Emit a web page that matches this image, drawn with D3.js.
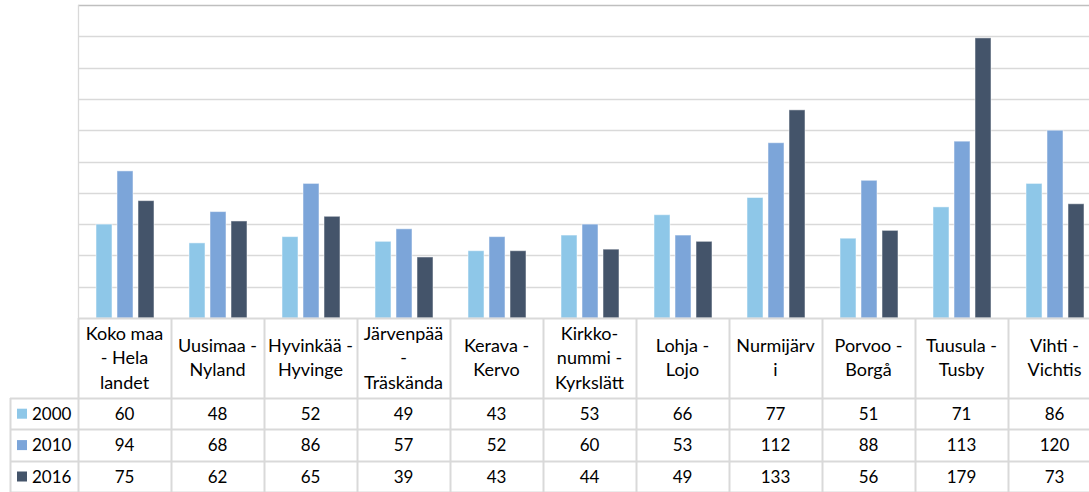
<!DOCTYPE html>
<html>
<head>
<meta charset="utf-8">
<script src="https://cdn.jsdelivr.net/npm/d3@7"></script>
<style>
  html, body { margin: 0; padding: 0; background: #fff; }
  text { font-family: Lato, "Open Sans", sans-serif; fill: #000; }
</style>
</head>
<body>
<div id="chart"></div>
<script>
// categories (municipalities) and how their names wrap in the table header
var categories = ["Koko maa - Hela landet", "Uusimaa - Nyland", "Hyvinkää - Hyvinge",
  "Järvenpää - Träskända", "Kerava - Kervo", "Kirkkonummi - Kyrkslätt", "Lohja - Lojo",
  "Nurmijärvi", "Porvoo - Borgå", "Tuusula - Tusby", "Vihti - Vichtis"];
var catLines = [["Koko maa", "- Hela", "landet"], ["Uusimaa -", "Nyland"], ["Hyvinkää -", "Hyvinge"],
  ["Järvenpää", "-", "Träskända"], ["Kerava -", "Kervo"], ["Kirkko-", "nummi -", "Kyrkslätt"],
  ["Lohja -", "Lojo"], ["Nurmijärv", "i"], ["Porvoo -", "Borgå"], ["Tuusula -", "Tusby"], ["Vihti -", "Vichtis"]];

var years = ["2000", "2010", "2016"];
var values2000 = [60, 48, 52, 49, 43, 53, 66, 77, 51, 71, 86];
var values2010 = [94, 68, 86, 57, 52, 60, 53, 112, 88, 113, 120];
var values2016 = [75, 62, 65, 39, 43, 44, 49, 133, 56, 179, 73];
var yTicks = [0, 20, 40, 60, 80, 100, 120, 140, 160, 180, 200];

var colors = { "2000": "#8ec7e8", "2010": "#7ca5d9", "2016": "#44546a" };
var seriesData = { "2000": values2000, "2010": values2010, "2016": values2016 };

var svgWidth = 1089, svgHeight = 492;
var plotLeft = 78, colW = 93;
var plotTop = 5, plotBottom = 318;
var headerBottom = 398, rowH = 31.4;
var legendLeft = 10;

var svg = d3.select("#chart").append("svg")
  .attr("width", svgWidth)
  .attr("height", svgHeight);

// scales
var x0 = d3.scaleBand()
  .domain(categories)
  .range([plotLeft, plotLeft + colW * categories.length])
  .paddingInner(0).paddingOuter(0);

var x1 = d3.scaleBand()
  .domain(years)
  .range([18, 76])
  .paddingInner(0.238);

var y = d3.scaleLinear()
  .domain([0, 200])
  .range([plotBottom, plotTop]);

// gridlines
svg.append("g").selectAll("line")
  .data(yTicks.filter(d => d > 0))
  .enter().append("line")
  .attr("x1", plotLeft).attr("x2", svgWidth)
  .attr("y1", d => Math.round(y(d)) + 0.5)
  .attr("y2", d => Math.round(y(d)) + 0.5)
  .attr("stroke", d => d === 200 ? "#bfbfbf" : "#d9d9d9")
  .attr("stroke-width", 1.3);

// left axis line
svg.append("line")
  .attr("x1", plotLeft + 0.5).attr("x2", plotLeft + 0.5)
  .attr("y1", plotTop).attr("y2", plotBottom)
  .attr("stroke", "#d9d9d9").attr("stroke-width", 1.3);

// bars
var groups = svg.append("g").selectAll("g")
  .data(categories)
  .enter().append("g")
  .attr("transform", d => `translate(${x0(d)},0)`);

groups.selectAll("rect")
  .data((d, i) => years.map(yr => ({ year: yr, value: seriesData[yr][i] })))
  .enter().append("rect")
  .attr("x", d => x1(d.year))
  .attr("width", x1.bandwidth())
  .attr("y", d => y(d.value))
  .attr("height", d => y(0) - y(d.value))
  .attr("fill", d => colors[d.year])
  .attr("stroke", "#ffffff")
  .attr("stroke-opacity", 0.5)
  .attr("stroke-width", 1);

// data table lines
var tableRight = plotLeft + colW * categories.length;
var lineColor = "#d9d9d9";
var table = svg.append("g");

// horizontal lines
table.append("line")
  .attr("x1", plotLeft).attr("x2", tableRight)
  .attr("y1", plotBottom + 0.5).attr("y2", plotBottom + 0.5)
  .attr("stroke", lineColor).attr("stroke-width", 2);
[0, 1, 2, 3].forEach(function(k) {
  var yy = Math.round(headerBottom + k * rowH) + 0.5;
  table.append("line")
    .attr("x1", legendLeft).attr("x2", tableRight)
    .attr("y1", yy).attr("y2", yy)
    .attr("stroke", lineColor).attr("stroke-width", 2);
});

// vertical lines
d3.range(categories.length + 1).forEach(function(k) {
  var xx = plotLeft + k * colW + 0.5;
  table.append("line")
    .attr("x1", xx).attr("x2", xx)
    .attr("y1", plotBottom).attr("y2", svgHeight)
    .attr("stroke", lineColor).attr("stroke-width", 2);
});
table.append("line")
  .attr("x1", legendLeft + 0.5).attr("x2", legendLeft + 0.5)
  .attr("y1", headerBottom).attr("y2", svgHeight)
  .attr("stroke", lineColor).attr("stroke-width", 2);

// header labels
var lineH = 24.5;
var headerMid = (plotBottom + headerBottom) / 2;
categories.forEach(function(c, i) {
  var lines = catLines[i];
  var cx = x0(c) + colW / 2;
  var startY = headerMid - (lines.length - 1) * lineH / 2 + 6;
  var t = table.append("text")
    .attr("text-anchor", "middle")
    .attr("font-size", "18px");
  lines.forEach(function(l, j) {
    t.append("tspan").attr("x", cx).attr("y", startY + j * lineH).text(l);
  });
});

// rows: legend + values
years.forEach(function(yr, r) {
  var cy = headerBottom + r * rowH + rowH / 2;
  table.append("rect")
    .attr("x", 17).attr("y", cy - 5)
    .attr("width", 10).attr("height", 10)
    .attr("fill", colors[yr]);
  table.append("text")
    .attr("x", 32).attr("y", cy + 6)
    .attr("font-size", "17px")
    .text(yr);
  categories.forEach(function(c, i) {
    table.append("text")
      .attr("x", x0(c) + colW / 2)
      .attr("y", cy + 6)
      .attr("text-anchor", "middle")
      .attr("font-size", "17px")
      .text(seriesData[yr][i]);
  });
});
</script>
</body>
</html>
